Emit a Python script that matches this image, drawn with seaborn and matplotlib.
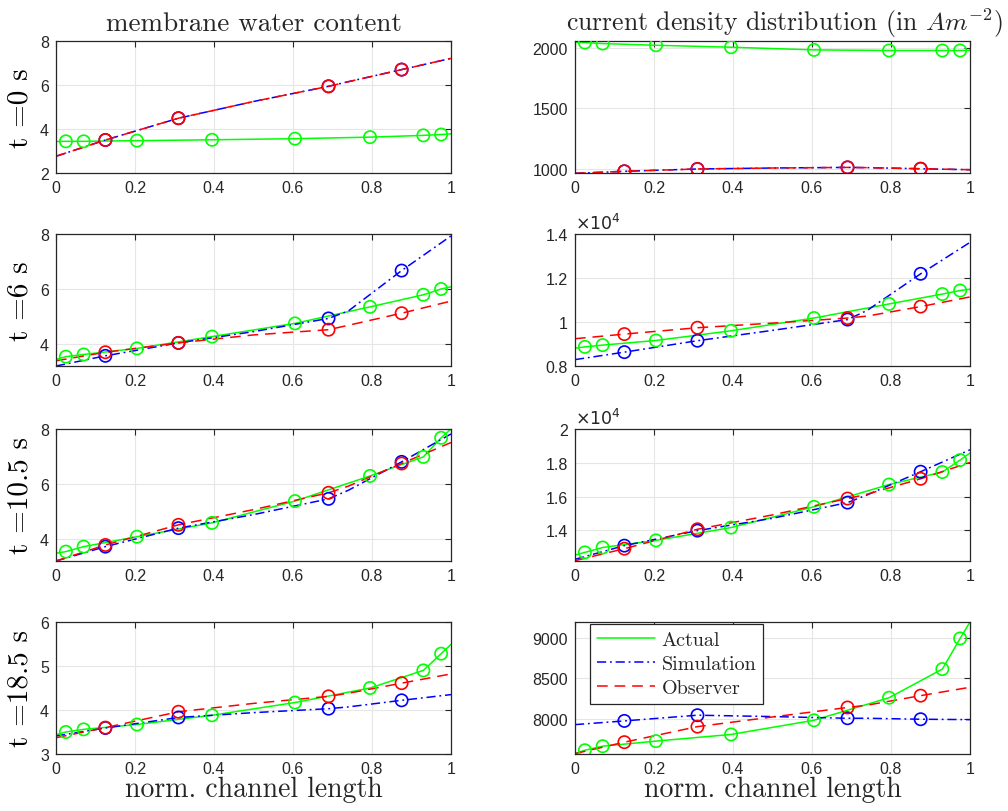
import numpy as np
import pandas as pd
import matplotlib
matplotlib.use("Agg")
import matplotlib.pyplot as plt
from matplotlib.ticker import FuncFormatter, FixedLocator
import seaborn as sns

sns.set_style("white")
plt.rcParams["mathtext.fontset"] = "cm"
plt.rcParams["font.family"] = ["Liberation Sans", "DejaVu Sans"]

# ---- data -------------------------------------------------------------
# x positions along the normalised channel
X_ACT = [0.0, 0.025, 0.07, 0.205, 0.395, 0.605, 0.795, 0.93, 0.975, 1.0]
X_EST = [0.0, 0.125, 0.31, 0.5, 0.69, 0.74, 0.875, 1.0]
ACT_NODES = [1, 2, 3, 4, 5, 6, 7, 8]   # indices carrying markers
EST_NODES = [1, 2, 4, 6]

TIMES = ["0", "6", "10.5", "18.5"]

# membrane water content
mem_actual = [
    [3.43, 3.44, 3.44, 3.47, 3.51, 3.56, 3.63, 3.71, 3.75, 3.78],
    [3.44, 3.54, 3.62, 3.84, 4.27, 4.75, 5.35, 5.79, 6.00, 6.08],
    [3.50, 3.56, 3.74, 4.10, 4.60, 5.39, 6.30, 6.99, 7.68, 8.00],
    [3.44, 3.50, 3.56, 3.67, 3.88, 4.17, 4.50, 4.90, 5.28, 5.49],
]
mem_simulation = [
    [2.76, 3.50, 4.49, 5.25, 5.94, 6.15, 6.70, 7.21],
    [3.20, 3.57, 4.04, 4.45, 4.93, 5.20, 6.67, 7.93],
    [3.22, 3.74, 4.41, 4.90, 5.47, 5.78, 6.81, 7.82],
    [3.41, 3.59, 3.83, 3.94, 4.03, 4.07, 4.22, 4.35],
]
mem_observer = [
    [2.76, 3.50, 4.49, 5.25, 5.94, 6.15, 6.70, 7.21],
    [3.39, 3.70, 4.04, 4.33, 4.52, 4.68, 5.12, 5.56],
    [3.22, 3.80, 4.53, 5.08, 5.69, 5.93, 6.75, 7.51],
    [3.37, 3.60, 3.96, 4.15, 4.31, 4.38, 4.61, 4.82],
]

# current density distribution (A m^-2)
cur_actual = [
    [2043, 2041, 2033, 2019, 2003, 1981, 1976, 1976, 1976, 1978],
    [8810, 8870, 8950, 9160, 9600, 10180, 10820, 11270, 11430, 11490],
    [12530, 12690, 12980, 13400, 14160, 15390, 16710, 17450, 18160, 18580],
    [7565, 7607, 7657, 7720, 7803, 7979, 8259, 8615, 8996, 9200],
]
cur_simulation = [
    [967, 984, 1003, 1011, 1016, 1014, 1005, 997],
    [8290, 8630, 9150, 9620, 10110, 10530, 12190, 13620],
    [12280, 13090, 13980, 14710, 15640, 16100, 17470, 18770],
    [7925, 7971, 8042, 8025, 8004, 8004, 7992, 7987],
]
cur_observer = [
    [967, 984, 1003, 1011, 1016, 1014, 1005, 997],
    [9240, 9450, 9740, 9950, 10180, 10270, 10700, 11140],
    [12200, 12910, 14060, 14910, 15880, 16140, 17050, 18020],
    [7565, 7707, 7900, 8020, 8138, 8167, 8285, 8389],
]

mem_ylim = [(2, 8), (3.2, 8), (3.22, 8), (3, 6)]
mem_yticks = [[2, 4, 6, 8], [4, 6, 8], [4, 6, 8], [3, 4, 5, 6]]
cur_ylim = [(970, 2054), (8000, 14000), (12180, 20000), (7560, 9200)]
cur_yticks = [[1000, 1500, 2000], [8000, 10000, 12000, 14000],
              [14000, 16000, 18000, 20000], [8000, 8500, 9000]]
cur_scale = [1, 1e4, 1e4, 1]

XTICKS = [0, 0.2, 0.4, 0.6, 0.8, 1.0]

# ---- styling ------------------------------------------------------------
GREEN, BLUE, RED = "#00ff00", "#0000ff", "#ff0000"
INK = "#262626"
SERIF = "cmr10"
LW = 1.1

series_style = [
    ("Actual", GREEN, "-"),
    ("Simulation", BLUE, (0, (6, 2.5, 1.2, 2.5))),
    ("Observer", RED, (0, (7, 4.5))),
]

fig = plt.figure(figsize=(10.08, 8.12), dpi=100)

col_left = [56 / 1008, 575 / 1008]
col_width = 395 / 1008
row_top_px = [42, 235, 430, 623]
row_h_px = 132


def draw_panel(ax, act, sim, obs):
    for (name, color, ls), xs, ys, nodes in zip(
        series_style,
        [X_ACT, X_EST, X_EST],
        [act, sim, obs],
        [ACT_NODES, EST_NODES, EST_NODES],
    ):
        df = pd.DataFrame({"x": xs, "y": ys})
        sns.lineplot(data=df, x="x", y="y", ax=ax, color=color, linestyle=ls,
                     linewidth=LW, estimator=None, sort=False, label=name)
        mk = df.iloc[nodes]
        sns.scatterplot(data=mk, x="x", y="y", ax=ax, color=color,
                        facecolor="none", edgecolor=color, linewidth=1.2,
                        s=78, marker="o", zorder=3, legend=False)


def style_axes(ax, ylim, yticks, yfmt):
    ax.set_xlim(0, 1)
    ax.set_ylim(*ylim)
    ax.xaxis.set_major_locator(FixedLocator(XTICKS))
    ax.yaxis.set_major_locator(FixedLocator(yticks))
    ax.xaxis.set_major_formatter(FuncFormatter(lambda v, p: f"{v:g}"))
    ax.yaxis.set_major_formatter(FuncFormatter(yfmt))
    ax.grid(True, color="#e6e6e6", linewidth=0.8)
    ax.tick_params(direction="in", length=4, width=0.8, colors=INK,
                   labelsize=11.5, top=True, right=True, pad=5)
    for sp in ax.spines.values():
        sp.set_color(INK)
        sp.set_linewidth(0.9)
        sp.set_visible(True)
    ax.set_xlabel("")
    ax.set_ylabel("")
    leg = ax.get_legend()
    if leg is not None:
        leg.remove()


axes = []
for r in range(4):
    bottom = 1 - (row_top_px[r] + row_h_px) / 812
    h = row_h_px / 812
    axL = fig.add_axes([col_left[0], bottom, col_width, h])
    axR = fig.add_axes([col_left[1], bottom, col_width, h])

    draw_panel(axL, mem_actual[r], mem_simulation[r], mem_observer[r])
    draw_panel(axR, cur_actual[r], cur_simulation[r], cur_observer[r])

    style_axes(axL, mem_ylim[r], mem_yticks[r], lambda v, p: f"{v:g}")
    sc = cur_scale[r]
    style_axes(axR, cur_ylim[r], cur_yticks[r],
               lambda v, p, sc=sc: f"{v / sc:g}")
    if sc != 1:
        axR.text(0.0, 1.015, r"$\times 10^{4}$", transform=axR.transAxes,
                 ha="left", va="bottom", fontsize=12.5, color=INK,
                 math_fontfamily="dejavusans")

    axL.set_ylabel(f"t ={TIMES[r]} s", family=SERIF, fontsize=21,
                   color="black", labelpad=5)
    axes.append((axL, axR))

axes[0][0].set_title("membrane water content", family=SERIF, fontsize=19.5,
                     pad=8)
axes[0][1].set_title(r"current density distribution (in $Am^{-2}$)",
                     family=SERIF, fontsize=18.5, pad=8, x=0.53)
for ax in axes[3]:
    ax.set_xlabel("norm. channel length", family=SERIF, fontsize=20,
                  labelpad=0)

# legend in the last current-density panel
axl = axes[3][1]
handles = [plt.Line2D([], [], color=c, linestyle=ls, linewidth=LW)
           for _, c, ls in series_style]
labels = [n for n, _, _ in series_style]
leg = axl.legend(handles, labels, loc="upper left",
                 bbox_to_anchor=(0.038, 0.985), borderaxespad=0.0,
                 prop={"family": SERIF, "size": 14.5}, frameon=True,
                 fancybox=False, edgecolor=INK, framealpha=1,
                 handlelength=2.9, handletextpad=0.3, labelspacing=0.3,
                 borderpad=0.35)
leg.get_frame().set_linewidth(0.9)

fig.savefig("out.png", dpi=100)
